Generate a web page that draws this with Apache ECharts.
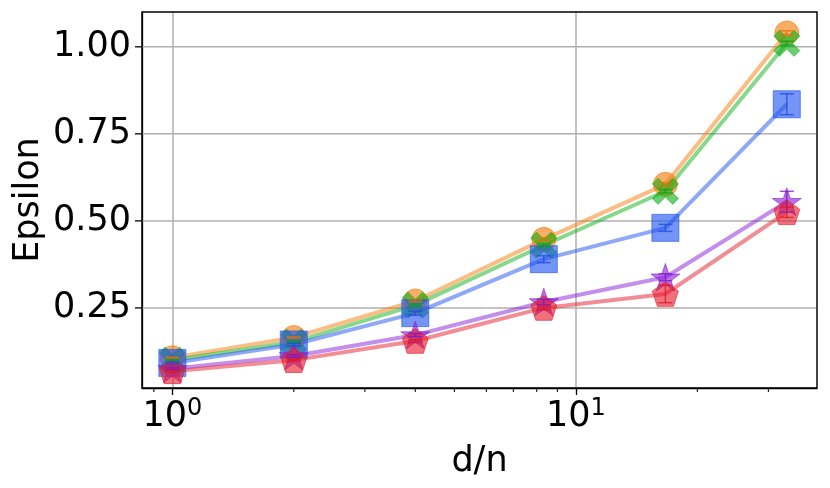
<!DOCTYPE html>
<html>
<head>
<meta charset="utf-8">
<script src="https://cdn.jsdelivr.net/npm/echarts@6/dist/echarts.min.js"></script>
<style>html,body{margin:0;padding:0;background:#fff}#c{width:830px;height:488px}</style>
</head>
<body>
<div id="c"></div>
<script>
var xValues = [1, 2, 4, 8.33, 16.67, 33.33];
var orangeVals = [0.107, 0.165, 0.27, 0.447, 0.605, 1.04];
var greenVals  = [0.100, 0.152, 0.258, 0.430, 0.585, 1.01];
var blueVals   = [0.092, 0.145, 0.235, 0.390, 0.480, 0.835];
var purpleVals = [0.075, 0.112, 0.172, 0.267, 0.338, 0.555];
var redVals    = [0.068, 0.100, 0.155, 0.250, 0.290, 0.525];
var blueErr    = [0.003, 0.004, 0.006, 0.010, 0.010, 0.030];
var purpleErr  = [0.003, 0.004, 0.005, 0.008, 0.010, 0.030];
var redErr     = [0.003, 0.003, 0.004, 0.006, 0.025, 0.015];
var orangeErr  = [0.002, 0.002, 0.003, 0.004, 0.005, 0.006];
var greenErr   = [0.002, 0.002, 0.003, 0.004, 0.005, 0.006];
var yTicks = [0.25, 0.50, 0.75, 1.00];
var xMinorTicks = [0.9, 2, 3, 4, 5, 6, 7, 8, 9, 20, 30];

var STAR = 'path://M50,0 L61.23,34.55 L97.55,34.55 L68.16,55.9 L79.39,90.45 L50,69.1 L20.61,90.45 L31.84,55.9 L2.45,34.55 L38.77,34.55 Z';
var PENT = 'path://M50,0 L97.55,34.55 L79.39,90.45 L20.61,90.45 L2.45,34.55 Z';
var XMARK = 'path://M0,22 L22,0 L50,28 L78,0 L100,22 L72,50 L100,78 L78,100 L50,72 L22,100 L0,78 L28,50 Z';

var FONT = 'DejaVu Sans';
var FS = 35;
var chart = echarts.init(document.getElementById('c'));

function pairs(vals){ return xValues.map(function(x,i){ return [x, vals[i]]; }); }
function lineSeries(name, vals, color, symbol, size){
  return {
    name: name, type: 'line', data: pairs(vals),
    symbol: symbol, symbolSize: size, symbolKeepAspect: true,
    lineStyle: {color: color, width: 4, opacity: 0.5},
    itemStyle: {color: color, opacity: 0.62, borderColor: color, borderWidth: 1},
    emphasis: {disabled: true}, animation: false, z: 3
  };
}
function errSeries(vals, errs, color){
  return {
    type: 'custom', animation: false, silent: true, z: 4,
    data: xValues.map(function(x,i){ return [x, vals[i] - errs[i], vals[i] + errs[i]]; }),
    renderItem: function(params, api){
      var lo = api.coord([api.value(0), api.value(1)]);
      var hi = api.coord([api.value(0), api.value(2)]);
      var cw = 7;
      var st = {stroke: color, lineWidth: 1.5, opacity: 0.75};
      return {type: 'group', children: [
        {type: 'line', shape: {x1: lo[0], y1: lo[1], x2: hi[0], y2: hi[1]}, style: st},
        {type: 'line', shape: {x1: lo[0]-cw, y1: lo[1], x2: lo[0]+cw, y2: lo[1]}, style: st},
        {type: 'line', shape: {x1: hi[0]-cw, y1: hi[1], x2: hi[0]+cw, y2: hi[1]}, style: st}
      ]};
    }
  };
}

var yMin = 0.02, yMax = 1.10;
var option = {
  backgroundColor: '#fff',
  animation: false,
  grid: {left: 142, top: 12, right: 13, bottom: 100, show: true, borderColor: '#000', borderWidth: 1.3, backgroundColor: 'transparent', z: 5},
  xAxis: {
    type: 'log', logBase: 10, min: 0.841, max: 39.6,
    name: 'd/n', nameLocation: 'middle', nameGap: 56,
    nameTextStyle: {fontFamily: FONT, fontSize: FS, color: '#000'},
    axisLine: {show: true, lineStyle: {color: '#000', width: 1.3}},
    axisTick: {show: true, length: 7, lineStyle: {color: '#000', width: 1.3}},
    splitLine: {show: true, lineStyle: {color: '#b0b0b0', width: 1.5}},
    axisLabel: {
      margin: 9, fontFamily: FONT, fontSize: FS, color: '#000',
      showMinLabel: false, showMaxLabel: false,
      formatter: function(v){
        var l = Math.log10(v), r = Math.round(l);
        if (Math.abs(l - r) > 1e-6) return '';
        return '10{sup|' + r + '}';
      },
      rich: {sup: {fontFamily: FONT, fontSize: 24, color: '#000', verticalAlign: 'top', padding: [0,0,16,0]}}
    }
  },
  yAxis: {
    type: 'value', min: yMin, max: yMax,
    name: 'Epsilon', nameLocation: 'middle', nameGap: 96, nameRotate: 90,
    nameTextStyle: {fontFamily: FONT, fontSize: FS, color: '#000'},
    axisLine: {show: true, lineStyle: {color: '#000', width: 1.3}},
    axisTick: {show: false},
    splitLine: {show: false},
    axisLabel: {show: false}
  },
  series: [
    lineSeries('orange', orangeVals, '#f67b08', 'circle', 24),
    lineSeries('green', greenVals, '#10b21a', XMARK, 26),
    lineSeries('blue', blueVals, '#1f53f1', 'rect', 27),
    lineSeries('purple', purpleVals, '#8a1fd8', STAR, 29),
    lineSeries('red', redVals, '#e71c2b', PENT, 26),
    errSeries(orangeVals, orangeErr, '#e0700a'),
    errSeries(greenVals, greenErr, '#10a01a'),
    errSeries(blueVals, blueErr, '#1f4ae0'),
    errSeries(purpleVals, purpleErr, '#7a18c8'),
    errSeries(redVals, redErr, '#d8182a'),
    {
      type: 'custom', animation: false, silent: true, z: 1,
      data: yTicks.map(function(v){ return [1, v]; }),
      renderItem: function(params, api){
        var p = api.coord([1, api.value(1)]);
        var cs = params.coordSys;
        return {type: 'group', children: [
          {type: 'line', shape: {x1: cs.x, y1: p[1], x2: cs.x + cs.width, y2: p[1]}, style: {stroke: '#b0b0b0', lineWidth: 1.5}},
          {type: 'line', shape: {x1: cs.x - 7, y1: p[1], x2: cs.x, y2: p[1]}, style: {stroke: '#000', lineWidth: 1.3}},
          {type: 'text', x: cs.x - 11, y: p[1], style: {text: api.value(1).toFixed(2), fontFamily: FONT, fontSize: FS, fill: '#000', align: 'right', verticalAlign: 'middle'}}
        ]};
      }
    },
    {
      type: 'custom', animation: false, silent: true, z: 6,
      data: xMinorTicks.map(function(v){ return [v, yMin]; }),
      renderItem: function(params, api){
        var p = api.coord([api.value(0), yMin]);
        return {type: 'line', shape: {x1: p[0], y1: p[1], x2: p[0], y2: p[1] + 4}, style: {stroke: '#000', lineWidth: 1}};
      }
    }
  ]
};
chart.setOption(option);
</script>
</body>
</html>
